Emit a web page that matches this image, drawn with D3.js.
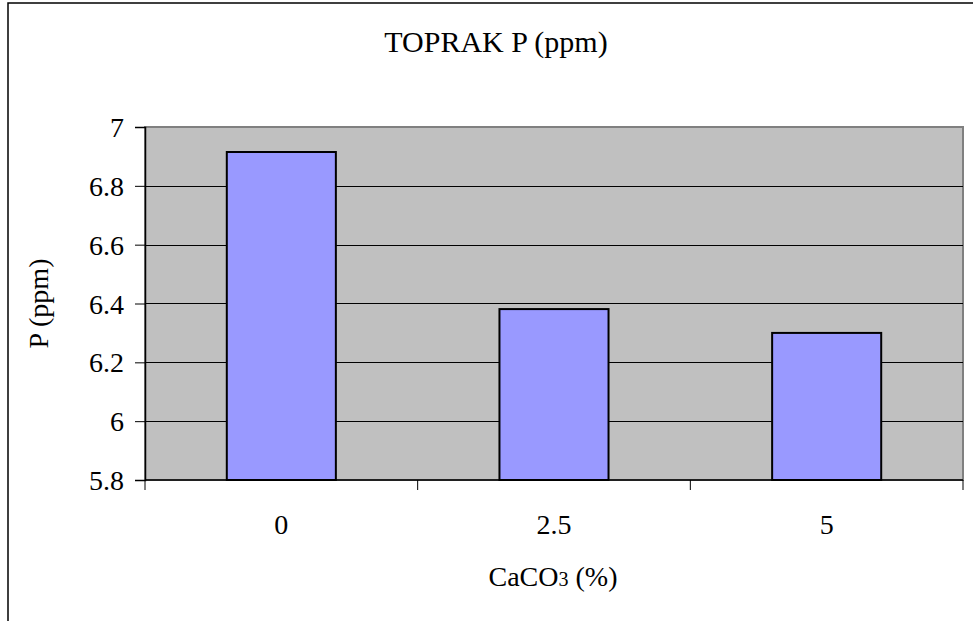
<!DOCTYPE html>
<html>
<head>
<meta charset="utf-8">
<script src="https://cdn.jsdelivr.net/npm/d3@7"></script>
<style>
html,body{margin:0;padding:0;background:#fff;}
svg{display:block;}
svg text{font-family:"Liberation Serif","Times New Roman",Times,"DejaVu Serif",serif !important;}
</style>
</head>
<body>
<svg id="chart" width="973" height="621"></svg>
<script>
const categories = ["0", "2.5", "5"];
const values = [6.915, 6.381, 6.30];
const yTicks = [5.8, 6, 6.2, 6.4, 6.6, 6.8, 7];
const chartTitle = "TOPRAK P (ppm)";
const yTitle = "P (ppm)";

const FONT = '"Liberation Serif", "Times New Roman", Times, "DejaVu Serif", serif';
const svg = d3.select("#chart");
const m = {left: 145, top: 127, right: 963, bottom: 480};

// outer frame
svg.append("rect").attr("x", 8).attr("y", 3).attr("width", 1200).attr("height", 900)
  .attr("fill", "#fff").attr("stroke", "#000").attr("stroke-width", 1.5);

const xb = d3.scaleBand().domain(categories).range([m.left, m.right]);
const y = d3.scaleLinear().domain([5.8, 7]).range([m.bottom, m.top]);

// plot area
svg.append("rect").attr("x", m.left).attr("y", m.top)
  .attr("width", m.right - m.left).attr("height", m.bottom - m.top)
  .attr("fill", "#C0C0C0").attr("stroke", "#808080").attr("stroke-width", 2);

// gridlines
svg.append("g").selectAll("line").data(yTicks.filter(t => t > 5.8 && t < 7)).join("line")
  .attr("x1", m.left).attr("x2", m.right)
  .attr("y1", d => Math.round(y(d)) + 0.5).attr("y2", d => Math.round(y(d)) + 0.5)
  .attr("stroke", "#000").attr("stroke-width", 1);

// bars
svg.append("g").selectAll("rect").data(values).join("rect")
  .attr("x", (d, i) => xb(categories[i]) + xb.bandwidth() * 0.3)
  .attr("width", xb.bandwidth() * 0.4)
  .attr("y", d => y(d))
  .attr("height", d => y(5.8) - y(d))
  .attr("fill", "#9999FF").attr("stroke", "#000").attr("stroke-width", 2);

// y axis
const yAxis = d3.axisLeft(y).tickValues(yTicks).tickSize(10).tickPadding(11)
  .tickFormat(d => d3.format("")(+d.toFixed(1)));
const gy = svg.append("g").attr("transform", `translate(${m.left},0)`).call(yAxis)
  .attr("font-family", FONT);
gy.select(".domain").attr("stroke", "#000").attr("stroke-width", 1.5);
gy.selectAll(".tick line").attr("stroke", "#000").attr("stroke-width", 1);
gy.selectAll("text").attr("font-size", 28).attr("fill", "#000")
  .attr("font-family", FONT).attr("dy", "0.34em");

// x axis
const gx = svg.append("g").attr("transform", `translate(0,${m.bottom})`);
gx.append("line").attr("x1", m.left).attr("x2", m.right).attr("y1", 0).attr("y2", 0)
  .attr("stroke", "#000").attr("stroke-width", 1.5);
const boundaries = categories.map(c => xb(c)).concat([m.right]);
gx.selectAll("line.tk").data(boundaries).join("line").attr("class", "tk")
  .attr("x1", d => d).attr("x2", d => d).attr("y1", 0).attr("y2", 10)
  .attr("stroke", "#000").attr("stroke-width", 1);
gx.selectAll("text").data(categories).join("text")
  .attr("x", d => xb(d) + xb.bandwidth() / 2).attr("y", 54)
  .attr("text-anchor", "middle").attr("font-size", 28).attr("font-family", FONT).text(d => d);

// titles
svg.append("text").attr("x", 496).attr("y", 52).attr("text-anchor", "middle")
  .attr("font-size", 30).attr("font-family", FONT).text(chartTitle);

const xt = svg.append("text").attr("x", 553).attr("y", 586).attr("text-anchor", "middle")
  .attr("font-size", 28).attr("font-family", FONT);
xt.append("tspan").text("CaCO");
xt.append("tspan").attr("font-size", 20).text("3");
xt.append("tspan").text(" (%)");

svg.append("text").attr("transform", `translate(48,${(m.top + m.bottom) / 2}) rotate(-90)`)
  .attr("text-anchor", "middle").attr("font-size", 28).attr("font-family", FONT).text(yTitle);
</script>
</body>
</html>
